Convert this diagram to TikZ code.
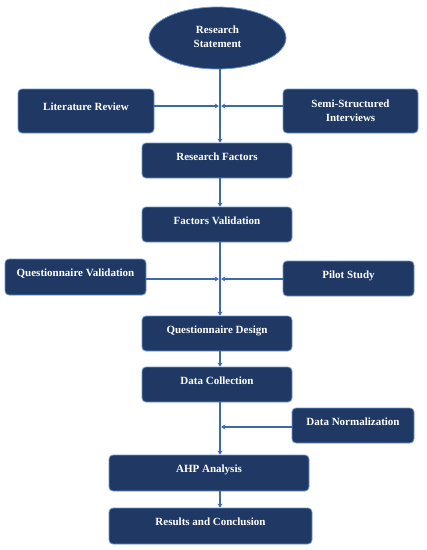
\documentclass[tikz,border=0pt]{standalone}
\usepackage{fontspec}
\setmainfont{Liberation Serif}
\usetikzlibrary{arrows.meta,shapes.geometric}
\definecolor{navy}{HTML}{1F3864}
\definecolor{edgeblue}{HTML}{6A96D2}
\definecolor{linkblue}{HTML}{3D69AE}
\tikzset{
  box/.style={draw=edgeblue, line width=0.8pt, fill=navy, rounded corners=4pt,
    text=white, font=\bfseries\fontsize{11}{14}\selectfont, inner sep=0pt,
    align=center},
  onel/.style={text height=8pt, text depth=8.5pt},
  link/.style={draw=linkblue, line width=2.4pt, -{Stealth[length=4pt,width=5pt]}},
  plain/.style={draw=linkblue, line width=2.4pt}
}
\begin{document}
\begin{tikzpicture}[x=1pt,y=-1pt]
\useasboundingbox (0,0) rectangle (427,550);
% main column x = 220
\node[ellipse, box, minimum width=137pt, minimum height=62pt] (rs) at (217.5,38) {\raisebox{3pt}{Research}\\\raisebox{3pt}{Statement}};
\node[box, onel, minimum width=136pt, minimum height=44pt] (lr) at (86,111) {Literature Review};
\node[box, minimum width=135pt, minimum height=44pt] (ssi) at (350.5,111) {Semi-Structured\\Interviews};
\node[box, onel, minimum width=150pt, minimum height=35pt] (rf) at (217,160.5) {Research Factors};
\node[box, onel, minimum width=150pt, minimum height=35pt] (fv) at (217,224.5) {Factors Validation};
\node[box, onel, minimum width=141pt, minimum height=36pt] (qv) at (75.5,277) {Questionnaire Validation};
\node[box, onel, minimum width=131pt, minimum height=35pt] (ps) at (348.5,278.5) {Pilot Study};
\node[box, onel, minimum width=150pt, minimum height=35pt] (qd) at (217,333.5) {Questionnaire Design};
\node[box, onel, minimum width=150pt, minimum height=35pt] (dc) at (217,384.5) {Data Collection};
\node[box, onel, minimum width=122pt, minimum height=35pt] (dn) at (353,425.5) {Data Normalization};
\node[box, onel, minimum width=200pt, minimum height=36pt] (ahp) at (209,473) {AHP Analysis};
\node[box, onel, minimum width=203pt, minimum height=36pt] (res) at (210.5,526) {Results and Conclusion};
% junction coordinates on main line
\coordinate (col) at (220,0);
\coordinate (j1) at (220,106);
\coordinate (j2) at (220,279);
\coordinate (j3) at (220,427);
% main vertical connectors
\draw[link] (rs.south -| col) -- (rf.north -| col);
\draw[link] (rf.south -| col) -- (fv.north -| col);
\draw[link] (fv.south -| col) -- (qd.north -| col);
\draw[link] (qd.south -| col) -- (dc.north -| col);
\draw[link] (dc.south -| col) -- (ahp.north -| col);
\draw[link] (ahp.south -| col) -- (res.north -| col);
% side inputs
\draw[link] (lr.east |- j1) -- ([xshift=-1.2pt]j1);
\draw[link] (ssi.west |- j1) -- ([xshift=1.2pt]j1);
\draw[link] (qv.east |- j2) -- ([xshift=-1.2pt]j2);
\draw[link] (ps.west |- j2) -- ([xshift=1.2pt]j2);
\draw[link] (dn.west |- j3) -- ([xshift=1.2pt]j3);
\end{tikzpicture}
\end{document}
